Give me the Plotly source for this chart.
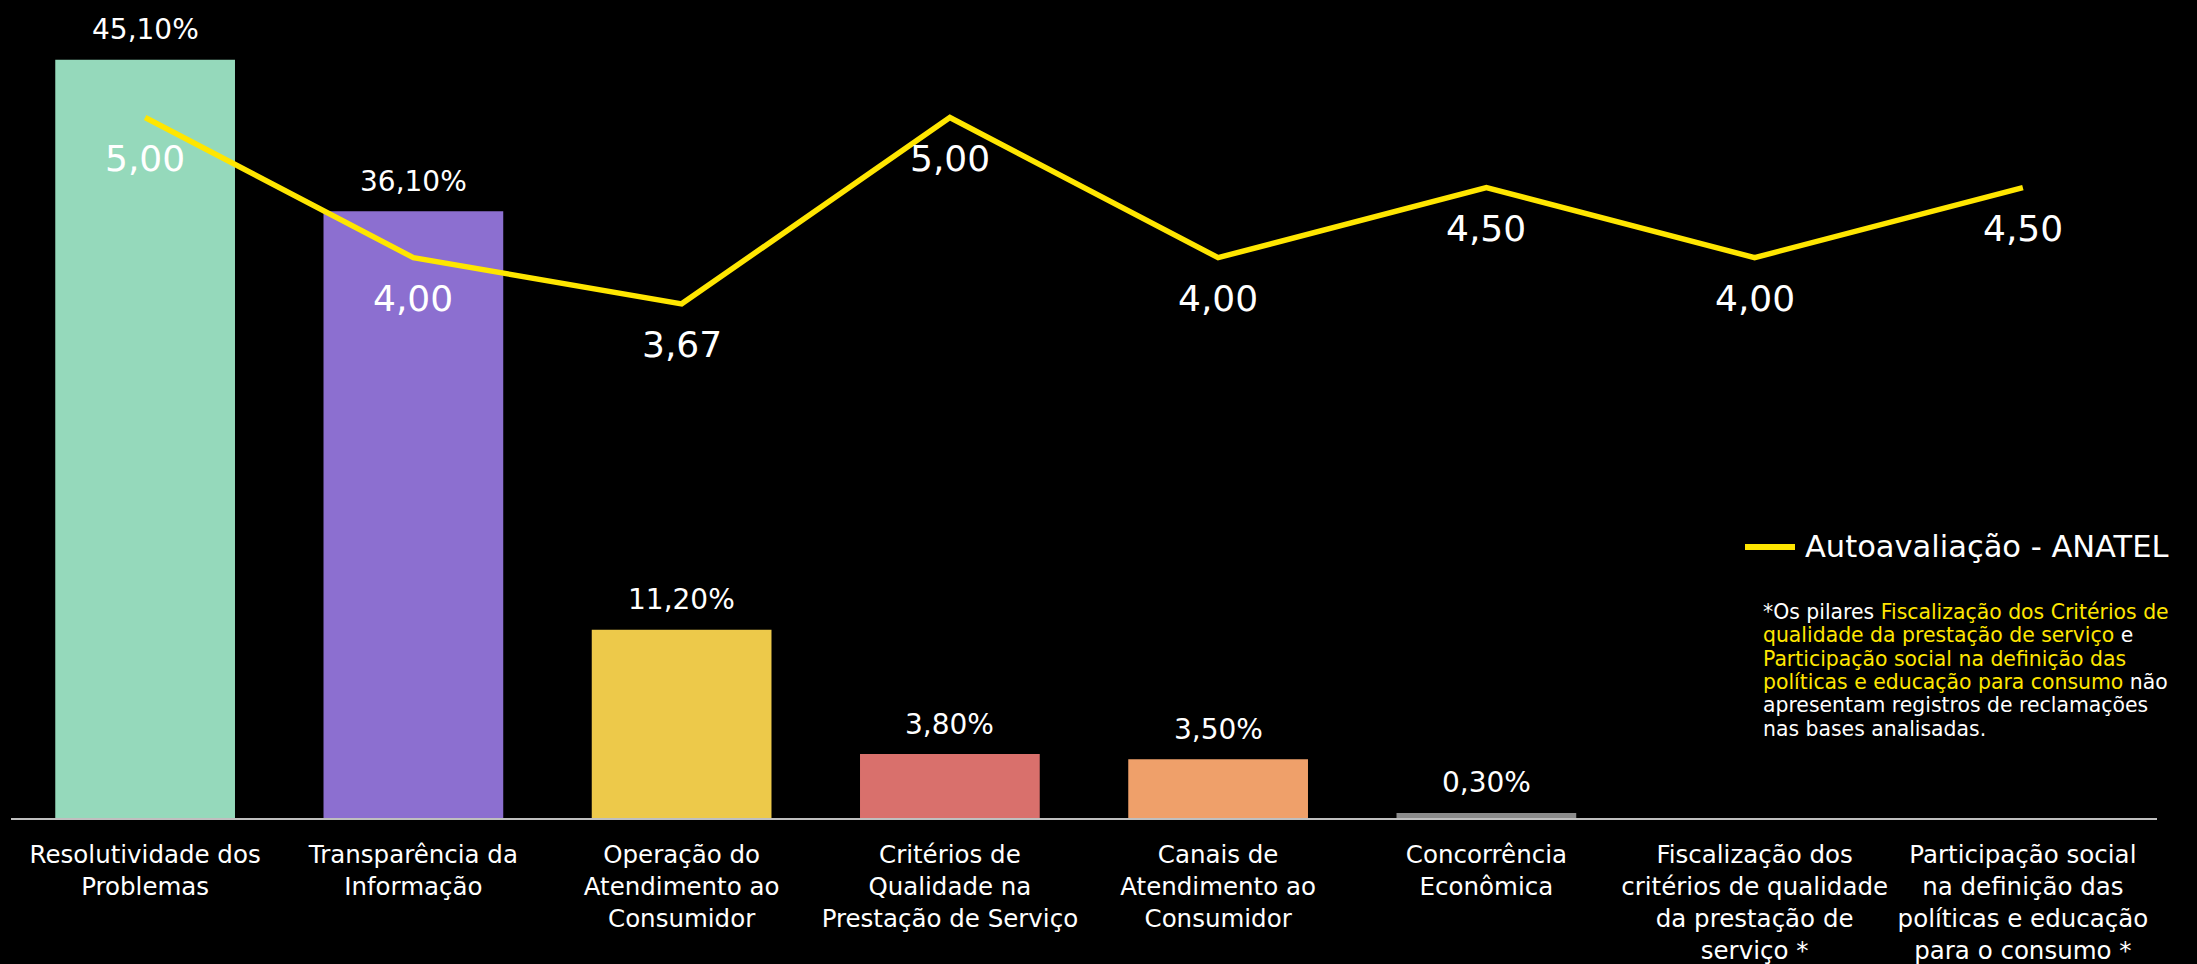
import plotly.graph_objects as go

# Pilares avaliados
categorias = [
    "Resolutividade dos<br>Problemas",
    "Transparência da<br>Informação",
    "Operação do<br>Atendimento ao<br>Consumidor",
    "Critérios de<br>Qualidade na<br>Prestação de Serviço",
    "Canais de<br>Atendimento ao<br>Consumidor",
    "Concorrência<br>Econômica",
    "Fiscalização dos<br>critérios de qualidade<br>da prestação de<br>serviço *",
    "Participação social<br>na definição das<br>políticas e educação<br>para o consumo *",
]

# Participação nas reclamações (%)
reclamacoes = [45.10, 36.10, 11.20, 3.80, 3.50, 0.30, None, None]

# Autoavaliação - ANATEL (nota)
autoavaliacao = [5.00, 4.00, 3.67, 5.00, 4.00, 4.50, 4.00, 4.50]

cores_barras = ["#95D9BB", "#8C6FD0", "#EDC94A", "#D9706C", "#EFA06A", "#8C8C8C", "#000000", "#000000"]
amarelo = "#FFE600"
FONTE = "DejaVu Sans, Verdana, sans-serif"

W, H = 2197, 964
ML, MR, MT, MB = 11, 40, 0, 146
PW, PH = W - ML - MR, H - MT - MB


def px_x(px):
    # pixel horizontal -> coordenada "paper"
    return (px - ML) / PW


def px_y(py):
    # pixel vertical -> coordenada "paper"
    return (H - MB - py) / PH


def fmt(v, sufixo=""):
    return f"{v:.2f}".replace(".", ",") + sufixo


fig = go.Figure()

fig.add_trace(go.Bar(
    x=categorias,
    y=reclamacoes,
    marker=dict(color=cores_barras, line=dict(width=0)),
    showlegend=False,
    hoverinfo="skip",
))

fig.add_trace(go.Scatter(
    x=categorias,
    y=autoavaliacao,
    yaxis="y2",
    mode="lines",
    line=dict(color=amarelo, width=5.5),
    name="Autoavaliação - ANATEL",
    showlegend=False,
    hoverinfo="skip",
))

anotacoes = []
# rótulos das barras
for c, v in zip(categorias, reclamacoes):
    if v is None:
        continue
    anotacoes.append(dict(
        x=c, y=v, xref="x", yref="y", text=fmt(v, "%"), showarrow=False,
        yanchor="middle", yshift=30,
        font=dict(family=FONTE, size=28, color="white"),
    ))
# rótulos da linha
for c, v in zip(categorias, autoavaliacao):
    anotacoes.append(dict(
        x=c, y=v, xref="x", yref="y2", text=fmt(v), showarrow=False,
        yanchor="middle", yshift=-41,
        font=dict(family=FONTE, size=36, color="white"),
    ))

# legenda
anotacoes.append(dict(
    x=px_x(1803), y=px_y(546), xref="paper", yref="paper",
    xanchor="left", yanchor="middle", showarrow=False,
    text="Autoavaliação - ANATEL",
    font=dict(family=FONTE, size=30.5, color="white"),
))

# nota explicativa
AM = f"<span style='color:{amarelo}'>"
nota = [
    f"*Os pilares {AM}Fiscalização dos Critérios de</span>",
    f"{AM}qualidade da prestação de serviço</span> e",
    f"{AM}Participação social na definição das</span>",
    f"{AM}políticas e educação para consumo</span> não",
    "apresentam registros de reclamações",
    "nas bases analisadas.",
]
for i, linha in enumerate(nota):
    anotacoes.append(dict(
        x=px_x(1761), y=px_y(612 + i * 23.3), xref="paper", yref="paper",
        xanchor="left", yanchor="middle", showarrow=False,
        text=linha,
        font=dict(family=FONTE, size=20.4, color="white"),
    ))

fig.update_layout(
    width=W,
    height=H,
    paper_bgcolor="black",
    plot_bgcolor="black",
    margin=dict(l=ML, r=MR, t=MT, b=MB),
    bargap=0.33,
    font=dict(family=FONTE, color="white"),
    xaxis=dict(
        showline=True, linecolor="#BFBFBF", linewidth=2,
        showgrid=False, zeroline=False, ticks="",
        ticklabelstandoff=14,
        tickfont=dict(family=FONTE, size=24.5, color="white"),
    ),
    yaxis=dict(range=[0, 48.66], visible=False, showgrid=False, zeroline=False),
    yaxis2=dict(range=[0, 5.839], overlaying="y", visible=False, showgrid=False, zeroline=False),
    annotations=anotacoes,
    shapes=[dict(
        type="line", xref="paper", yref="paper",
        x0=px_x(1745), x1=px_x(1795), y0=px_y(547), y1=px_y(547),
        line=dict(color=amarelo, width=6),
    )],
)

fig.write_html("out.html")
